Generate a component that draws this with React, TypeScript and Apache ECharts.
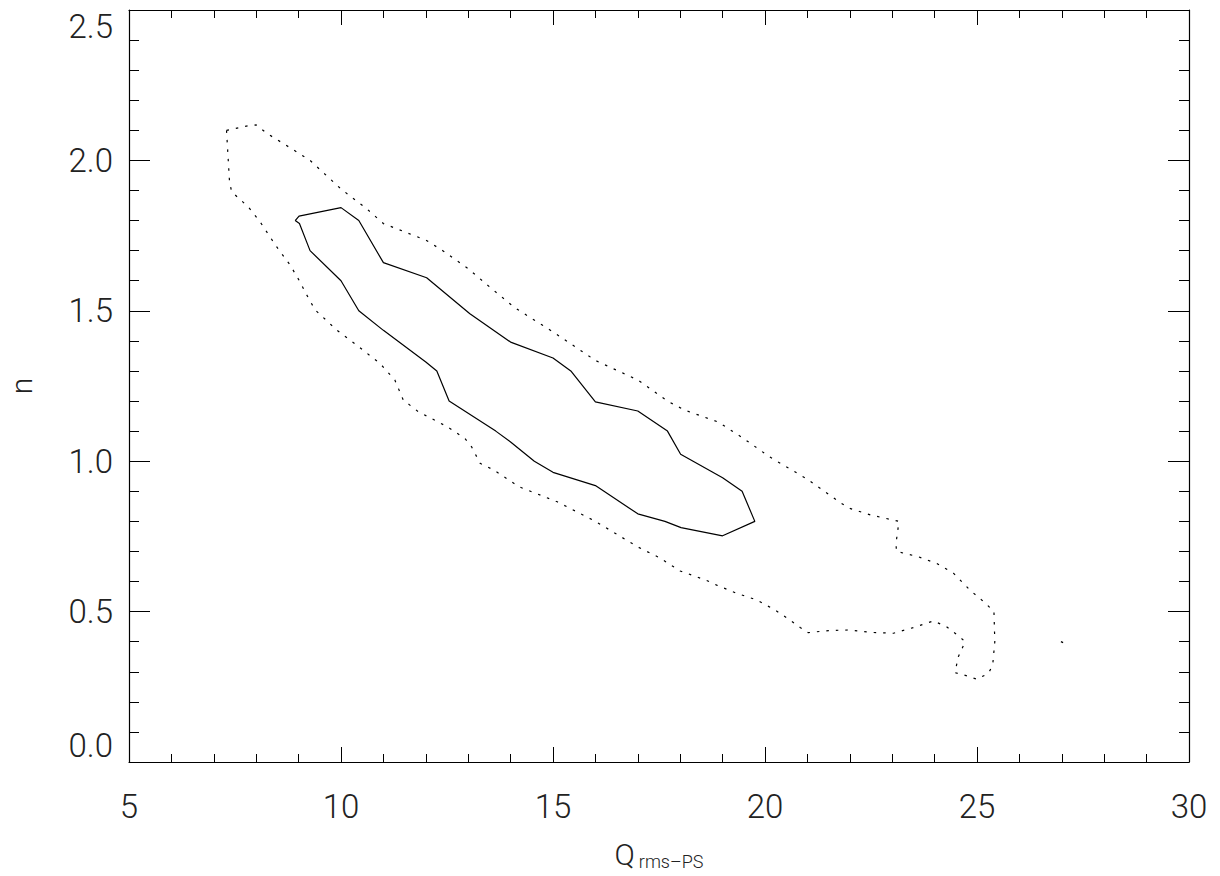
import React, { useEffect, useRef } from "react";
import * as echarts from "echarts";

// Inner (solid) contour: [Q, n]
const innerContour: [number, number][] = [
  [8.92, 1.80], [9.02, 1.79], [9.27, 1.70], [10.0, 1.60], [10.42, 1.50],
  [11.0, 1.435], [12.0, 1.33], [12.26, 1.30], [12.55, 1.20], [13.65, 1.10],
  [14.0, 1.064], [14.56, 1.0], [15.0, 0.963], [16.0, 0.919], [17.0, 0.825],
  [17.64, 0.80], [18.02, 0.779], [19.0, 0.752], [19.76, 0.80], [19.46, 0.90],
  [19.0, 0.945], [18.01, 1.023], [17.70, 1.10], [17.0, 1.167], [16.0, 1.197],
  [15.42, 1.30], [15.0, 1.343], [14.0, 1.396], [13.04, 1.49], [12.02, 1.61],
  [11.0, 1.66], [10.42, 1.80], [10.0, 1.843], [9.01, 1.815], [8.92, 1.80],
];

// Outer (dotted) contour: [Q, n]
const outerContour: [number, number][] = [
  [7.30, 2.10], [7.8, 2.115], [8.0, 2.118], [8.25, 2.09], [8.88, 2.035],
  [9.27, 2.0], [10.0, 1.905], [10.6, 1.84], [11.0, 1.79], [12.0, 1.735],
  [12.4, 1.70], [13.0, 1.64], [13.5, 1.58], [14.1, 1.51], [15.0, 1.43],
  [16.0, 1.335], [17.0, 1.27], [17.7, 1.20], [18.1, 1.17], [18.9, 1.13],
  [19.5, 1.075], [20.1, 1.015], [21.0, 0.94], [21.8, 0.86], [22.0, 0.843],
  [22.5, 0.821], [23.16, 0.80], [23.09, 0.727], [23.10, 0.70], [23.6, 0.683],
  [24.05, 0.66], [24.45, 0.627], [24.83, 0.572], [25.2, 0.528], [25.4, 0.50],
  [25.42, 0.40], [25.37, 0.322], [25.27, 0.295], [25.0, 0.275], [24.7, 0.289],
  [24.48, 0.297], [24.56, 0.35], [24.72, 0.40], [24.6, 0.415], [24.28, 0.45],
  [23.97, 0.469], [23.5, 0.447], [23.03, 0.428], [22.48, 0.431], [22.0, 0.439],
  [21.5, 0.437], [21.02, 0.43], [20.83, 0.447], [20.59, 0.472], [20.24, 0.505],
  [19.8, 0.539], [19.33, 0.561], [18.86, 0.588], [18.6, 0.605], [18.0, 0.635],
  [17.5, 0.68], [17.0, 0.715], [16.0, 0.80], [15.1, 0.865], [14.2, 0.915],
  [13.6, 0.971], [13.28, 0.993], [13.08, 1.048], [12.92, 1.076], [12.5, 1.115],
  [11.82, 1.165], [11.47, 1.203], [11.27, 1.27], [10.92, 1.325], [10.72, 1.347],
  [10.37, 1.386], [9.9, 1.436], [9.39, 1.503], [9.19, 1.553], [9.03, 1.597],
  [8.8, 1.652], [8.48, 1.713], [8.09, 1.796], [7.81, 1.846], [7.62, 1.87],
  [7.42, 1.896], [7.37, 1.93], [7.30, 2.10],
];

// Isolated tiny contour island
const islandPoint: [number, number][] = [[26.98, 0.40], [27.03, 0.397]];

const xMin = 5, xMax = 30, xInterval = 5;
const yMin = 0, yMax = 2.5, yInterval = 0.5;

const FONT = "Roboto";

export default function App() {
  const ref = useRef<HTMLDivElement>(null);
  useEffect(() => {
    if (!ref.current) return;
    const chart = echarts.init(ref.current, null, { renderer: "svg" });
    const axisLine = { show: true, onZero: false, lineStyle: { color: "#000", width: 1.2 } };
    const baseX = {
      type: "value" as const,
      min: xMin, max: xMax, interval: xInterval,
      axisLine,
      splitLine: { show: false },
      axisTick: { show: true, inside: true, length: 15, lineStyle: { color: "#000" } },
      minorTick: { show: true, splitNumber: 5, length: 8, lineStyle: { color: "#000" } },
    };
    const baseY = {
      type: "value" as const,
      min: yMin, max: yMax, interval: yInterval,
      axisLine,
      splitLine: { show: false },
      axisTick: { show: true, inside: true, length: 21, lineStyle: { color: "#000" } },
      minorTick: { show: true, splitNumber: 5, length: 10, lineStyle: { color: "#000" } },
    };
    chart.setOption({
      animation: false,
      backgroundColor: "#fff",
      grid: { left: 129, right: 31, top: 10, bottom: 114, containLabel: false, outerBoundsMode: "none" },
      xAxis: [
        {
          ...baseX,
          position: "bottom",
          name: "{q|Q}{s|rms\u2013PS}",
          nameLocation: "middle",
          nameGap: 76,
          nameTextStyle: {
            rich: {
              q: { fontFamily: FONT, fontWeight: 300, fontSize: 30, color: "#222" },
              s: { fontFamily: FONT, fontWeight: 300, fontSize: 18, color: "#222", padding: [14, 0, 0, 4] },
            },
          },
          axisLabel: {
            show: true, margin: 28, fontFamily: FONT, fontWeight: 300, fontSize: 33, color: "#222",
            verticalAlign: "top",
          },
        },
        { ...baseX, position: "top", axisLabel: { show: false } },
      ],
      yAxis: [
        {
          ...baseY,
          position: "left",
          name: "n",
          nameLocation: "middle",
          nameGap: 93,
          nameRotate: 90,
          nameTextStyle: { fontFamily: FONT, fontWeight: 300, fontSize: 30, color: "#222", lineHeight: 30 },
          axisLabel: {
            show: true, margin: 16, fontFamily: FONT, fontWeight: 300, fontSize: 33, color: "#222",
            formatter: (v: number) => v.toFixed(1),
            verticalAlignMinLabel: "bottom",
            verticalAlignMaxLabel: "top",
          },
        },
        { ...baseY, position: "right", axisLabel: { show: false } },
      ],
      series: [
        {
          type: "line", data: innerContour, showSymbol: false, silent: true,
          lineStyle: { color: "#000", width: 1.2, type: "solid" },
        },
        {
          type: "line", data: outerContour, showSymbol: false, silent: true,
          lineStyle: { color: "#000", width: 1.2, type: [2.5, 7] },
        },
        {
          type: "line", data: islandPoint, showSymbol: false, silent: true,
          lineStyle: { color: "#000", width: 1.5, type: "solid" },
        },
      ],
    });
    return () => chart.dispose();
  }, []);
  return (
    <div
      ref={ref}
      style={{ position: "fixed", left: 0, top: 0, width: 1220, height: 876, background: "#fff" }}
    />
  );
}
